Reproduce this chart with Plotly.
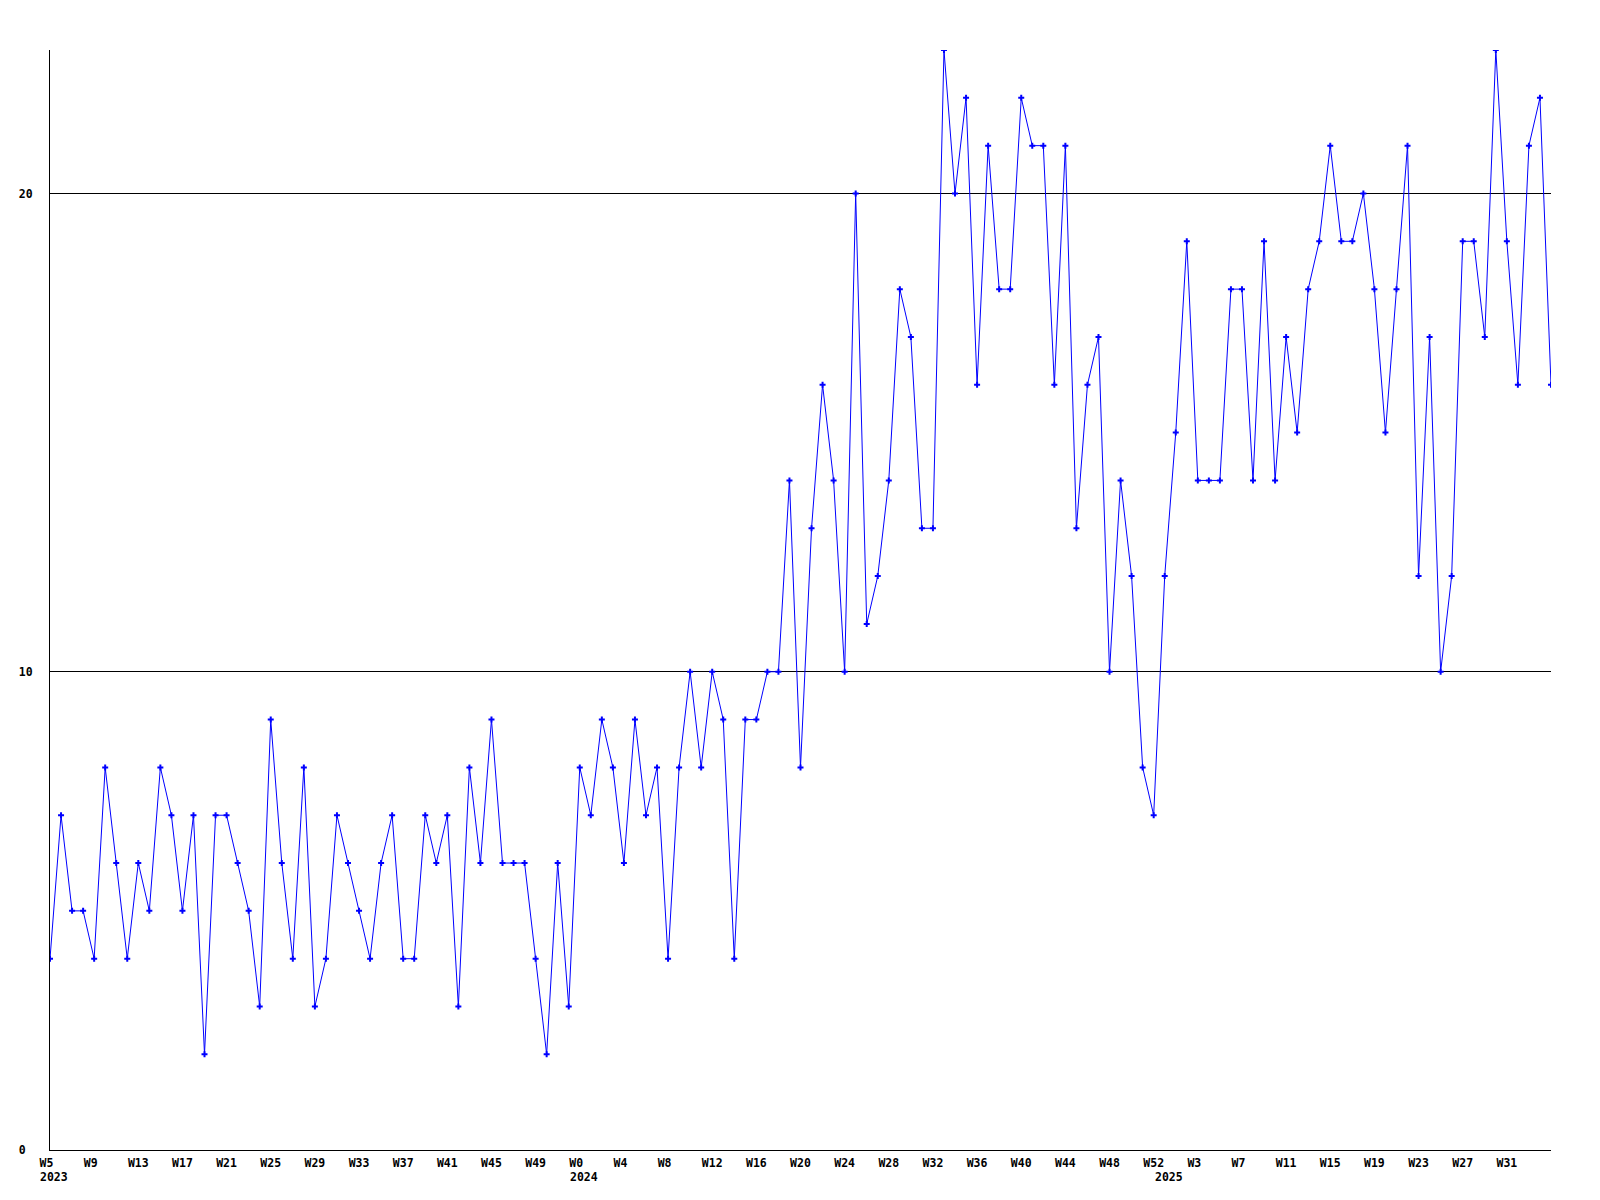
import plotly.graph_objects as go

# Weekly values
weeks_2023 = list(range(5, 53))   # W5 .. W52
vals_2023 = [4, 7, 5, 5, 4, 8, 6, 4, 6, 5,
             8, 7, 5, 7, 2, 7, 7, 6, 5, 3,
             9, 6, 4, 8, 3, 4, 7, 6, 5, 4,
             6, 7, 4, 4, 7, 6, 7, 3, 8, 6,
             9, 6, 6, 6, 4, 2, 6, 3]

weeks_2024 = list(range(0, 53))   # W0 .. W52
vals_2024 = [8, 7, 9, 8, 6, 9, 7, 8, 4, 8,
             10, 8, 10, 9, 4, 9, 9, 10, 10, 14,
             8, 13, 16, 14, 10, 20, 11, 12, 14, 18,
             17, 13, 13, 23, 20, 22, 16, 21, 18, 18,
             22, 21, 21, 16, 21, 13, 16, 17, 10, 14,
             12, 8, 7]

weeks_2025 = list(range(0, 36))   # W0 .. W35
vals_2025 = [12, 15, 19, 14, 14, 14, 18, 18, 14, 19,
             14, 17, 15, 18, 19, 21, 19, 19, 20, 18,
             15, 18, 21, 12, 17, 10, 12, 19, 19, 17,
             23, 19, 16, 21, 22, 16]

years = ["2023", "2024", "2025"]
y_ticks = [0, 10, 20]
label_every = 4

# Build the sequence
week_labels = []
year_of = []
values = []
for yr, wks, vls in zip(years, [weeks_2023, weeks_2024, weeks_2025],
                        [vals_2023, vals_2024, vals_2025]):
    for w, v in zip(wks, vls):
        week_labels.append(f"W{w}")
        year_of.append(yr)
        values.append(v)

x = list(range(len(values)))

NBSP = "\u00a0"
tickvals = [i for i in x if i % label_every == 0 and i < len(x) - 1]
# labels are left-aligned in the reference: pad short ones to 3 chars
ticktext = [week_labels[i] + NBSP * (3 - len(week_labels[i])) for i in tickvals]

# y labels left-aligned (pad short ones with non-breaking spaces)
ywidth = max(len(str(t)) for t in y_ticks)
y_text = [str(t) + NBSP * (ywidth - len(str(t))) for t in y_ticks]

font_family = "DejaVu Sans Mono"
fsize = 11.5

fig = go.Figure()
fig.add_trace(go.Scatter(
    x=x, y=values, mode="lines+markers",
    line=dict(color="#0000ff", width=1),
    marker=dict(symbol="cross", size=5, color="#0000ff"),
    hoverinfo="skip", showlegend=False,
))

# Year labels at the first week of each year
first_idx = {}
for i, yr in enumerate(year_of):
    first_idx.setdefault(yr, i)
for yr in years:
    fig.add_annotation(
        x=first_idx[yr], y=0, xref="x", yref="paper",
        text=yr, showarrow=False, yanchor="top", xanchor="left",
        xshift=-12, yshift=-18,
        font=dict(family=font_family, size=fsize, color="black", weight="bold"),
    )

fig.update_layout(
    width=1600, height=1200,
    margin=dict(l=42, r=57, t=42, b=58),
    paper_bgcolor="white", plot_bgcolor="white",
    font=dict(family=font_family, size=fsize, color="black", weight="bold"),
    xaxis=dict(
        range=[0, len(x) - 1],
        tickmode="array", tickvals=tickvals, ticktext=ticktext,
        showgrid=False, zeroline=False,
        showline=True, linecolor="black", linewidth=1,
        ticks="", ticklabelstandoff=2,
        tickfont=dict(family=font_family, size=fsize, color="black", weight="bold"),
    ),
    yaxis=dict(
        range=[0, 23],
        tickmode="array", tickvals=y_ticks, ticktext=y_text,
        showgrid=True, gridcolor="black", gridwidth=1,
        zeroline=False,
        showline=True, linecolor="black", linewidth=1,
        ticks="", ticklabelstandoff=14,
        tickfont=dict(family=font_family, size=fsize, color="black", weight="bold"),
    ),
)

fig.write_html("out.html", config={"displayModeBar": False})
